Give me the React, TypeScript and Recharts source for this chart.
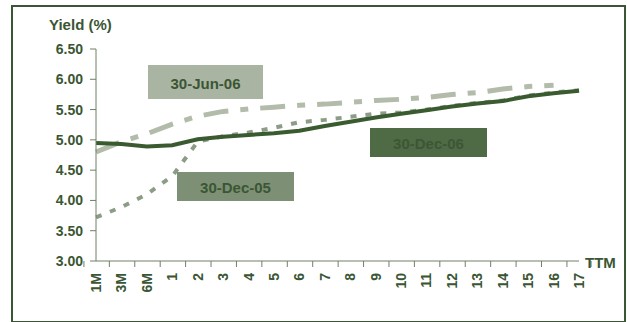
import { LineChart, Line, XAxis, YAxis } from "recharts";

// Terms to maturity along the x axis
const terms = ["1M", "3M", "6M", "1", "2", "3", "4", "5", "6", "7", "8", "9", "10", "11", "12", "13", "14", "15", "16", "17"];

// Yield curves (%) on three dates
const dec06 = [4.95, 4.93, 4.89, 4.91, 5.01, 5.05, 5.08, 5.11, 5.15, 5.23, 5.3, 5.37, 5.43, 5.49, 5.55, 5.6, 5.64, 5.72, 5.77, 5.81];
const jun06 = [4.8, 4.97, 5.1, 5.26, 5.39, 5.47, 5.51, 5.54, 5.57, 5.59, 5.62, 5.65, 5.67, 5.7, 5.75, 5.78, 5.84, 5.88, 5.9];
const dec05 = [3.72, 3.89, 4.1, 4.4, 4.97, 5.06, 5.12, 5.2, 5.29, 5.33, 5.38, 5.43, 5.45, 5.5, 5.56, 5.61, 5.65, 5.73, 5.78, 5.82];

const yTicks = [3, 3.5, 4, 4.5, 5, 5.5, 6, 6.5];

const data = terms.map((term, i) => ({
  term,
  dec05: dec05[i] ?? null,
  jun06: jun06[i] ?? null,
  dec06: dec06[i] ?? null,
}));

const FONT = "'Liberation Sans', Arial, sans-serif";
const TEXT = "#3b5634";
const AXIS = "#6e8066";
const PLOT_LEFT = 96;
const PLOT_RIGHT = 579;
const STEP = (PLOT_RIGHT - PLOT_LEFT) / terms.length;

// Tick marks sit on the band edges, labels are rotated in the band centre
function TermTick(props: any) {
  const { x, y, payload, index } = props;
  const ty = y + 12;
  return (
    <g>
      <line x1={x - STEP / 2} x2={x - STEP / 2} y1={y} y2={y + 6} stroke={AXIS} strokeWidth={1} />
      {index === terms.length - 1 && (
        <line x1={x + STEP / 2} x2={x + STEP / 2} y1={y} y2={y + 6} stroke={AXIS} strokeWidth={1} />
      )}
      <text
        x={x}
        y={ty}
        transform={`rotate(-90, ${x}, ${ty})`}
        textAnchor="end"
        dominantBaseline="central"
        fontFamily={FONT}
        fontWeight="bold"
        fontSize={14}
        fill={TEXT}
      >
        {payload.value}
      </text>
    </g>
  );
}

function Tag({ x, y, w, h, fill, color, text }: { x: number; y: number; w: number; h: number; fill: string; color: string; text: string }) {
  return (
    <g>
      <rect x={x} y={y} width={w} height={h} fill={fill} />
      <text
        x={x + w / 2}
        y={y + h / 2 + 1}
        textAnchor="middle"
        dominantBaseline="central"
        fontFamily={FONT}
        fontWeight="bold"
        fontSize={15}
        fill={color}
      >
        {text}
      </text>
    </g>
  );
}

export default function App() {
  return (
    <div style={{ position: "absolute", left: 0, top: 0, width: 627, height: 322, background: "#fff" }}>
      <div
        style={{
          position: "absolute",
          left: 11,
          top: 5,
          width: 611,
          height: 314,
          border: `2px solid ${TEXT}`,
        }}
      />
      <div style={{ position: "absolute", left: 0, top: 0 }}>
        <LineChart width={627} height={322} data={data} margin={{ top: 49, right: 48, bottom: 21, left: 36 }}>
          <XAxis
            dataKey="term"
            interval={0}
            tickLine={false}
            tickSize={0}
            tickMargin={0}
            height={40}
            stroke={AXIS}
            tick={<TermTick />}
          />
          <YAxis
            width={60}
            domain={[3, 6.5]}
            ticks={yTicks}
            tickSize={6}
            tickMargin={7}
            stroke={AXIS}
            tickFormatter={(v: number) => v.toFixed(2)}
            tick={{ fontFamily: FONT, fontWeight: "bold", fontSize: 14, fill: TEXT }}
          />
          <Line
            dataKey="jun06"
            stroke="#b3bcab"
            strokeWidth={5}
            strokeDasharray="25 12 8 12"
            dot={false}
            isAnimationActive={false}
          />
          <Line
            dataKey="dec05"
            stroke="#8d9c86"
            strokeWidth={4}
            strokeDasharray="6 9"
            dot={false}
            isAnimationActive={false}
          />
          <Line dataKey="dec06" stroke="#3a5a30" strokeWidth={4} dot={false} isAnimationActive={false} />
        </LineChart>
      </div>
      <svg width={627} height={322} style={{ position: "absolute", left: 0, top: 0, pointerEvents: "none" }}>
        <text x={49} y={30} fontFamily={FONT} fontWeight="bold" fontSize={15} fill={TEXT}>
          Yield (%)
        </text>
        <text x={585} y={268} fontFamily={FONT} fontWeight="bold" fontSize={15} fill={TEXT}>
          TTM
        </text>
        <Tag x={148} y={65} w={115} h={34} fill="#aab4a2" color={TEXT} text="30-Jun-06" />
        <Tag x={177} y={172} w={117} h={29} fill="#7d9075" color={TEXT} text="30-Dec-05" />
        <Tag x={370} y={128} w={117} h={29} fill="#4f6b45" color="#3d5636" text="30-Dec-06" />
      </svg>
    </div>
  );
}
